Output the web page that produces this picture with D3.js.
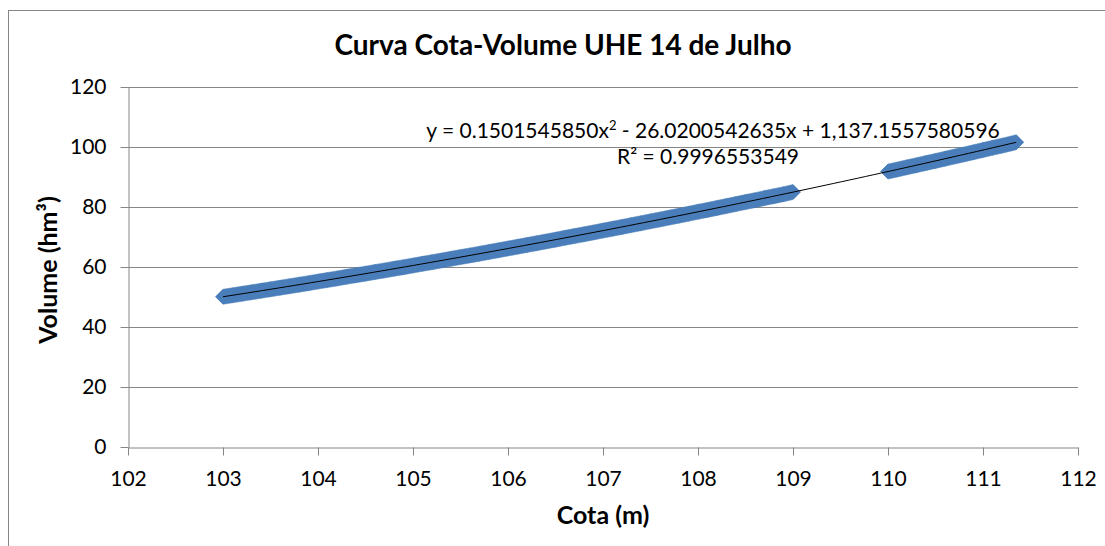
<!DOCTYPE html>
<html>
<head>
<meta charset="utf-8">
<script src="https://cdn.jsdelivr.net/npm/d3@7"></script>
<style>
  body { margin: 0; background: #fff; }
  text { font-family: Lato, "Open Sans", sans-serif; fill: #000; }
</style>
</head>
<body>
<div id="chart"></div>
<script>
const svgWidth = 1105;
const svgHeight = 546;

const margin = { top: 87, right: 27, bottom: 99, left: 128 };
const width = svgWidth - margin.left - margin.right;
const height = svgHeight - margin.top - margin.bottom;

// Cota (m) and Volume (hm³)
const cota = [
  103.0, 103.1, 103.2, 103.3, 103.4, 103.5, 103.6, 103.7, 103.8, 103.9,
  104.0, 104.1, 104.2, 104.3, 104.4, 104.5, 104.6, 104.7, 104.8, 104.9,
  105.0, 105.1, 105.2, 105.3, 105.4, 105.5, 105.6, 105.7, 105.8, 105.9,
  106.0, 106.1, 106.2, 106.3, 106.4, 106.5, 106.6, 106.7, 106.8, 106.9,
  107.0, 107.1, 107.2, 107.3, 107.4, 107.5, 107.6, 107.7, 107.8, 107.9,
  108.0, 108.1, 108.2, 108.3, 108.4, 108.5, 108.6, 108.7, 108.8, 108.9,
  109.0,
  110.0, 110.1, 110.2, 110.3, 110.4, 110.5, 110.6, 110.7, 110.8, 110.9,
  111.0, 111.1, 111.2, 111.3, 111.35
];
const volume = [
  50.08, 50.57, 51.07, 51.57, 52.07, 52.57, 53.08, 53.59, 54.11, 54.62,
  55.14, 55.66, 56.19, 56.72, 57.25, 57.79, 58.32, 58.86, 59.41, 59.95,
  60.50, 61.06, 61.61, 62.17, 62.73, 63.30, 63.87, 64.44, 65.01, 65.59,
  66.17, 66.75, 67.34, 67.92, 68.52, 69.11, 69.71, 70.31, 70.91, 71.52,
  72.13, 72.74, 73.36, 73.98, 74.60, 75.22, 75.85, 76.48, 77.12, 77.75,
  78.39, 79.04, 79.68, 80.33, 80.98, 81.64, 82.29, 82.96, 83.62, 84.29,
  84.96,
  91.82, 92.52, 93.23, 93.94, 94.65, 95.36, 96.08, 96.80, 97.53, 98.25,
  98.98, 99.72, 100.45, 101.19, 101.56
];

// polynomial trendline coefficients (from the chart label)
const coefA = 0.1501545850;
const coefB = -26.0200542635;
const coefC = 1137.1557580596;

const xTicks = [102, 103, 104, 105, 106, 107, 108, 109, 110, 111, 112];
const yTicks = [0, 20, 40, 60, 80, 100, 120];

const data = cota.map((c, i) => ({ x: c, y: volume[i] }));

const svg = d3.select("#chart")
  .append("svg")
  .attr("width", svgWidth)
  .attr("height", svgHeight);

// outer chart border
svg.append("rect")
  .attr("x", 8.5)
  .attr("y", 10.5)
  .attr("width", svgWidth)
  .attr("height", svgHeight)
  .attr("fill", "none")
  .attr("stroke", "#868686")
  .attr("stroke-width", 1);

const chartGroup = svg.append("g")
  .attr("transform", `translate(${margin.left}, ${margin.top})`);

const xScale = d3.scaleLinear().domain([102, 112]).range([0, width]);
const yScale = d3.scaleLinear().domain([0, 120]).range([height, 0]);

// gridlines
chartGroup.append("g")
  .selectAll("line")
  .data(yTicks.filter(d => d > 0))
  .enter()
  .append("line")
  .attr("x1", 0)
  .attr("x2", width)
  .attr("y1", d => Math.round(yScale(d)) + 0.5)
  .attr("y2", d => Math.round(yScale(d)) + 0.5)
  .attr("stroke", "#868686")
  .attr("stroke-width", 1);

// axes
const leftAxis = d3.axisLeft(yScale).tickValues(yTicks).tickSize(8).tickSizeOuter(0).tickPadding(14);
const bottomAxis = d3.axisBottom(xScale).tickValues(xTicks).tickSize(8).tickSizeOuter(0).tickPadding(16);

const yAxis = chartGroup.append("g")
  .attr("transform", "translate(0.5, 0)")
  .call(leftAxis);

const xAxis = chartGroup.append("g")
  .attr("transform", `translate(0, ${height + 0.5})`)
  .call(bottomAxis);

[yAxis, xAxis].forEach(ax => {
  ax.select(".domain").attr("stroke", "#868686");
  ax.selectAll(".tick line").attr("stroke", "#868686");
  ax.selectAll(".tick text")
    .attr("fill", "#000")
    .style("font-size", "21px")
    .style("font-family", "Lato, sans-serif");
});

// markers: dense diamonds, drawn as the union of neighbouring diamonds
const r = 7.5;
function diamond(p) {
  const px = xScale(p.x), py = yScale(p.y);
  return [[px, py - r], [px + r, py], [px, py + r], [px - r, py]];
}

const markerColor = "#4A7EBB";
const hulls = [];
for (let i = 0; i < data.length - 1; i++) {
  if (data[i + 1].x - data[i].x <= 0.11) {
    hulls.push(d3.polygonHull(diamond(data[i]).concat(diamond(data[i + 1]))));
  }
}

chartGroup.append("g")
  .selectAll("path.band")
  .data(hulls)
  .enter()
  .append("path")
  .attr("class", "band")
  .attr("d", h => "M" + h.join("L") + "Z")
  .attr("fill", markerColor)
  .attr("stroke", markerColor)
  .attr("stroke-width", 0.5);

chartGroup.append("g")
  .selectAll("path.marker")
  .data(data)
  .enter()
  .append("path")
  .attr("class", "marker")
  .attr("d", d => "M" + diamond(d).join("L") + "Z")
  .attr("fill", markerColor);

// polynomial trendline over the data range
const xMin = d3.min(cota), xMax = d3.max(cota);
const trend = d3.range(0, 101).map(i => {
  const x = xMin + (xMax - xMin) * i / 100;
  return { x: x, y: coefA * x * x + coefB * x + coefC };
});

chartGroup.append("path")
  .datum(trend)
  .attr("fill", "none")
  .attr("stroke", "#000")
  .attr("stroke-width", 1)
  .attr("d", d3.line().x(d => xScale(d.x)).y(d => yScale(d.y)));

// trendline label
const eq = svg.append("text")
  .attr("x", 713)
  .attr("y", 138)
  .attr("text-anchor", "middle")
  .style("font-size", "21px");
eq.append("tspan").text("y = 0.1501545850x");
eq.append("tspan").attr("dy", -8).style("font-size", "13px").text("2");
eq.append("tspan").attr("dy", 8).text(" - 26.0200542635x + 1,137.1557580596");

svg.append("text")
  .attr("x", 708)
  .attr("y", 164)
  .attr("text-anchor", "middle")
  .style("font-size", "21px")
  .text("R² = 0.9996553549");

// title
svg.append("text")
  .attr("x", 563)
  .attr("y", 55)
  .attr("text-anchor", "middle")
  .style("font-size", "28px")
  .style("font-weight", "bold")
  .text("Curva Cota-Volume UHE 14 de Julho");

// axis labels
svg.append("text")
  .attr("x", 603)
  .attr("y", 524)
  .attr("text-anchor", "middle")
  .style("font-size", "25px")
  .style("font-weight", "bold")
  .text("Cota (m)");

svg.append("text")
  .attr("transform", "rotate(-90)")
  .attr("x", -270)
  .attr("y", 57)
  .attr("text-anchor", "middle")
  .style("font-size", "25px")
  .style("font-weight", "bold")
  .text("Volume (hm³)");
</script>
</body>
</html>
